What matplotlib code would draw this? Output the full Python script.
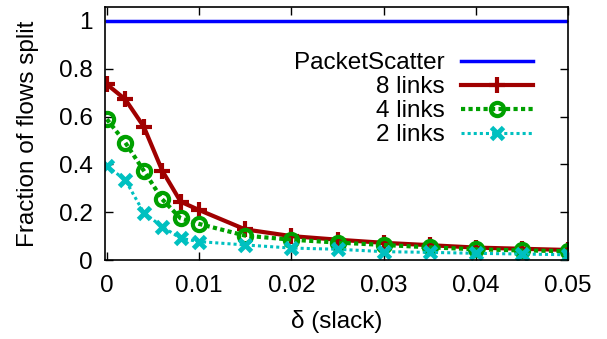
import matplotlib
matplotlib.use('Agg')
from matplotlib import pyplot as plt

# data
slack = [0, 0.002, 0.004, 0.006, 0.008, 0.01, 0.015, 0.02, 0.025, 0.03, 0.035, 0.04, 0.045, 0.05]
scatter_frac = [1.0] * len(slack)
links8 = [0.735, 0.672, 0.558, 0.374, 0.244, 0.209, 0.128, 0.100, 0.085, 0.072, 0.062, 0.052, 0.047, 0.042]
links4 = [0.589, 0.491, 0.374, 0.254, 0.174, 0.151, 0.102, 0.085, 0.073, 0.063, 0.053, 0.045, 0.040, 0.037]
links2 = [0.393, 0.335, 0.198, 0.139, 0.091, 0.077, 0.063, 0.050, 0.045, 0.035, 0.032, 0.028, 0.025, 0.022]

xticks = [0, 0.01, 0.02, 0.03, 0.04, 0.05]
xtick_labels = ['0', '0.01', '0.02', '0.03', '0.04', '0.05']
yticks = [0, 0.2, 0.4, 0.6, 0.8, 1]
ytick_labels = ['0', '0.2', '0.4', '0.6', '0.8', '1']

plt.rcParams['font.family'] = ['Liberation Sans', 'DejaVu Sans']
plt.rcParams['font.size'] = 17.5

fig = plt.figure(figsize=(6.07, 3.39), dpi=100)
ax = fig.add_axes([0.173, 0.233, 0.763, 0.746])

ax.plot(slack, scatter_frac, color='#0000ff', lw=2.5, label='PacketScatter')
ax.plot(slack, links8, color='#a00000', lw=3, marker='+', ms=11, mew=3, label='8 links')
ax.plot(slack, links4, color='#00a000', lw=3, ls=(0, (1, 0.8)), marker='o', ms=9.5,
        mfc='none', mew=3, label='4 links')
ax.plot(slack, links2, color='#00c0c0', lw=2.2, ls=(0, (1, 1)), marker='x', ms=8.5,
        mew=3.5, label='2 links')

ax.set_xlim(-0.0002, 0.05)
ax.set_ylim(0, 1.058)
ax.set_xticks(xticks)
ax.set_xticklabels(xtick_labels)
ax.set_yticks(yticks)
ax.set_yticklabels(ytick_labels)
ax.tick_params(direction='in', top=True, right=True, length=6, width=1)
ax.tick_params(axis='x', pad=11)
ax.tick_params(axis='y', pad=9)
for sp in ax.spines.values():
    sp.set_linewidth(1.2)

ax.set_xlabel('δ (slack)', labelpad=9)
ax.set_ylabel('Fraction of flows split', labelpad=14)

leg = ax.legend(loc='upper right', bbox_to_anchor=(0.946, 0.86), frameon=False,
                markerfirst=False, handlelength=3.0, labelspacing=0.08,
                handletextpad=0.65, borderaxespad=0)

fig.savefig('out.png', dpi=100)
